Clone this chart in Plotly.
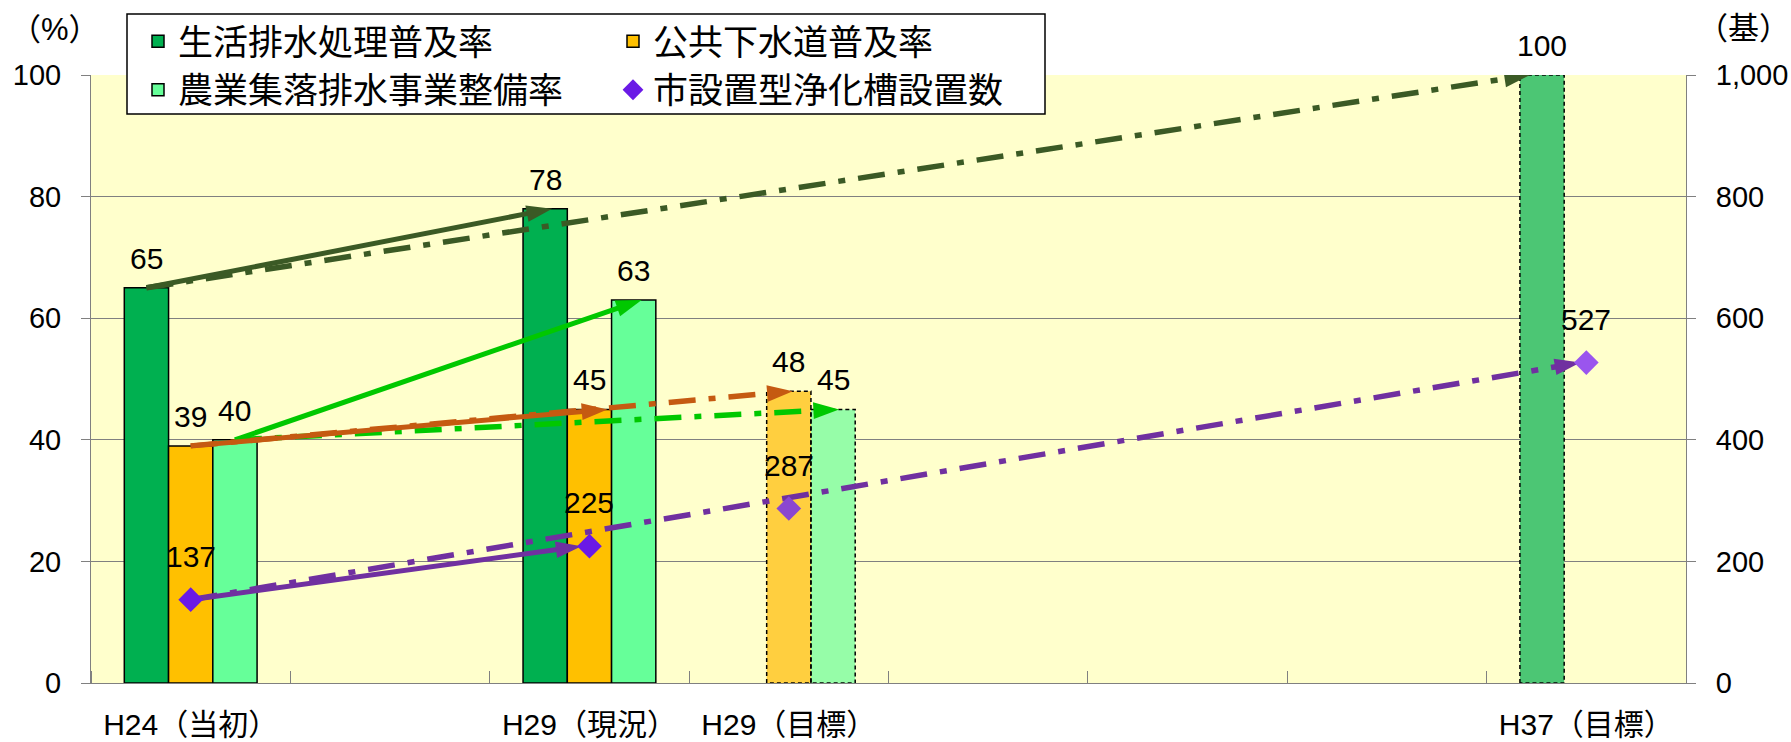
import plotly.graph_objects as go

# ---- data -------------------------------------------------------------
categories = ["H24（当初）", "", "H29（現況）", "H29（目標）", "", "", "", "H37（目標）"]
is_target = [False, False, False, True, False, False, False, True]

seikatsu_rate = [65, None, 78, None, None, None, None, 100]    # 生活排水処理普及率 (%)
gesuido_rate = [39, None, 45, 48, None, None, None, None]      # 公共下水道普及率 (%)
nouson_rate = [40, None, 63, 45, None, None, None, None]       # 農業集落排水事業整備率 (%)
jokaso_count = [137, None, 225, 287, None, None, None, 527]    # 市設置型浄化槽設置数 (基)

left_ticks = [0, 20, 40, 60, 80, 100]
right_ticks = [0, 200, 400, 600, 800, 1000]

# trend arrows: (series key, from category, to category, style, tip nudge)
arrow_specs = [
    ("seikatsu", 0, 7, "dashdot", -0.06),
    ("nouson", 0, 3, "dashdot", 0.03),
    ("gesuido", 0, 3, "dashdot", 0.02),
    ("jokaso", 0, 7, "dashdot", -0.03),
    ("seikatsu", 0, 2, "solid", 0.035),
    ("nouson", 0, 2, "solid", 0.04),
    ("gesuido", 0, 2, "solid", 0.09),
    ("jokaso", 0, 2, "solid", -0.04),
]

# ---- geometry ----------------------------------------------------------
FIG_W, FIG_H = 1791, 742
M_L, M_R, M_T, M_B = 91, 105, 75, 59
PLOT_W = FIG_W - M_L - M_R
PLOT_H = FIG_H - M_T - M_B


def px_x(p):
    return (p - M_L) / PLOT_W


def px_y(p):
    return (FIG_H - M_B - p) / PLOT_H


BAR_W = 0.222
xs = list(range(len(categories)))

series = {
    "seikatsu": dict(name="生活排水処理普及率", values=seikatsu_rate, color="#00B050",
                     target_color="#4CC674", offset=-1.5 * BAR_W, legend="legend",
                     arrow_color="#3B5A25", yaxis="y"),
    "gesuido": dict(name="公共下水道普及率", values=gesuido_rate, color="#FFC000",
                    target_color="#FFCF3F", offset=-0.5 * BAR_W, legend="legend2",
                    arrow_color="#C55A11", yaxis="y"),
    "nouson": dict(name="農業集落排水事業整備率", values=nouson_rate, color="#66FF99",
                   target_color="#96FDA8", offset=0.5 * BAR_W, legend="legend",
                   arrow_color="#00C800", yaxis="y"),
    "jokaso": dict(name="市設置型浄化槽設置数", values=jokaso_count, color="#6A1AE6",
                   offset=None, legend="legend2", arrow_color="#7030A0", yaxis="y2"),
}

point_colors = ["#6A1AE6", None, "#6A1AE6", "#8B47D0", None, None, None, "#9A55EE"]

fig = go.Figure()

# ---- bars --------------------------------------------------------------
bar_keys = ["seikatsu", "gesuido", "nouson"]
for key in bar_keys:
    s = series[key]
    actual = [v if not t else None for v, t in zip(s["values"], is_target)]
    target = [v if t else None for v, t in zip(s["values"], is_target)]
    fig.add_trace(go.Bar(
        x=xs, y=actual, width=BAR_W, offset=s["offset"], name=s["name"],
        legend=s["legend"], marker=dict(color=s["color"], line=dict(color="black", width=1.5)),
        hoverinfo="skip",
    ))
    fig.add_trace(go.Bar(
        x=xs, y=target, width=BAR_W, offset=s["offset"], name=s["name"] + "（目標）",
        showlegend=False, marker=dict(color=s["target_color"], line=dict(width=0)),
        hoverinfo="skip",
    ))
    # dashed outline around planned values
    ox, oy = [], []
    for i, (v, t) in enumerate(zip(s["values"], is_target)):
        if t and v is not None:
            left = i + s["offset"]
            right = left + BAR_W
            ox += [left, left, right, right, left, None]
            oy += [0, v, v, 0, 0, None]
    if ox:
        fig.add_trace(go.Scatter(
            x=ox, y=oy, mode="lines", showlegend=False, hoverinfo="skip",
            line=dict(color="black", width=1.5, dash="4px,3px"),
        ))


def anchor_x(key, idx):
    s = series[key]
    if s["offset"] is None:
        return idx
    return idx + s["offset"] + BAR_W / 2


# ---- trend arrows ------------------------------------------------------
for key, i0, i1, style, nudge in arrow_specs:
    s = series[key]
    x0, y0 = anchor_x(key, i0), s["values"][i0]
    x1, y1 = anchor_x(key, i1) + nudge, s["values"][i1]
    fig.add_trace(go.Scatter(
        x=[x0, x1], y=[y0, y1], yaxis=s["yaxis"], mode="lines+markers",
        showlegend=False, hoverinfo="skip",
        line=dict(color=s["arrow_color"], width=5.5 if style == "dashdot" else 5,
                  dash="27px,13px,7px,13px" if style == "dashdot" else "solid"),
        marker=dict(symbol=["circle", "arrow"], size=[0, 27], opacity=[0, 1],
                    angleref="previous", color=s["arrow_color"], line=dict(width=0)),
    ))

# ---- septic tank count markers ----------------------------------------
fig.add_trace(go.Scatter(
    x=xs, y=jokaso_count, yaxis="y2", mode="markers", name=series["jokaso"]["name"],
    legend="legend2", hoverinfo="skip",
    marker=dict(symbol="diamond", size=19,
                color=[c if c else "#6A1AE6" for c in point_colors],
                line=dict(width=0)),
))

# ---- value labels ------------------------------------------------------
annotations = []
label_font = dict(family="Liberation Sans, Arial", size=30, color="black")
for key in bar_keys:
    s = series[key]
    for i, v in enumerate(s["values"]):
        if v is None:
            continue
        annotations.append(dict(
            x=anchor_x(key, i), y=v, xref="x", yref="y", text=str(v),
            showarrow=False, yanchor="bottom", yshift=11, font=label_font,
        ))
for i, v in enumerate(jokaso_count):
    if v is None:
        continue
    annotations.append(dict(
        x=i, y=v, xref="x", yref="y2", text=str(v),
        showarrow=False, yanchor="bottom", yshift=25, font=label_font,
    ))

# unit captions
unit_font = dict(family="Liberation Sans, Noto Sans CJK JP", size=31, color="black")
annotations.append(dict(x=px_x(55), y=px_y(30), xref="paper", yref="paper", text="（%）",
                        xanchor="center", yanchor="middle", showarrow=False, font=unit_font))
annotations.append(dict(x=px_x(1743), y=px_y(28), xref="paper", yref="paper", text="（基）",
                        xanchor="center", yanchor="middle", showarrow=False, font=unit_font))

# legend frame
shapes = [dict(
    type="rect", xref="paper", yref="paper",
    x0=px_x(127), x1=px_x(1045), y0=px_y(114), y1=px_y(14),
    line=dict(color="black", width=1.5), fillcolor="white", layer="above",
)]

axis_gray = "#808080"
tick_font = dict(family="Liberation Sans, Arial", size=29, color="black")
legend_font = dict(family="Noto Sans CJK JP", size=35, color="black")

fig.update_layout(
    width=FIG_W, height=FIG_H, autosize=False,
    margin=dict(l=M_L, r=M_R, t=M_T, b=M_B, pad=0),
    paper_bgcolor="white", plot_bgcolor="#FFFFCC",
    barmode="overlay",
    annotations=annotations, shapes=shapes,
    xaxis=dict(
        range=[-0.5, len(categories) - 0.5], tickmode="array",
        tickvals=[i for i, c in enumerate(categories) if c],
        ticktext=[c for c in categories if c],
        ticks="", showgrid=False, zeroline=False,
        showline=True, linecolor=axis_gray, linewidth=1,
        tickfont=dict(family="Liberation Sans, Noto Sans CJK JP", size=30, color="black"),
        ticklabelstandoff=15, automargin=False,
        minor=dict(tickmode="array", tickvals=[i - 0.5 for i in range(len(categories) + 1)],
                   ticks="inside", ticklen=12, tickcolor=axis_gray, tickwidth=1, showgrid=False),
    ),
    yaxis=dict(
        range=[0, 100], tickmode="array", tickvals=left_ticks,
        ticks="outside", ticklen=9, tickcolor=axis_gray, tickwidth=1,
        showline=True, linecolor=axis_gray, linewidth=1,
        showgrid=False, zeroline=False, tickfont=tick_font,
        ticklabelstandoff=14, automargin=False,
        minor=dict(tickmode="array", tickvals=left_ticks[1:-1], ticks="",
                   showgrid=True, gridcolor=axis_gray, gridwidth=1),
    ),
    yaxis2=dict(
        range=[0, 1000], tickmode="array", tickvals=right_ticks, tickformat=",",
        overlaying="y", side="right",
        ticks="outside", ticklen=9, tickcolor=axis_gray, tickwidth=1,
        showline=True, linecolor=axis_gray, linewidth=1,
        showgrid=False, zeroline=False, tickfont=tick_font,
        ticklabelstandoff=14, automargin=False,
    ),
    legend=dict(
        x=px_x(138), y=px_y(12), xanchor="left", yanchor="top",
        orientation="v", bgcolor="rgba(0,0,0,0)", borderwidth=0,
        font=legend_font, tracegroupgap=0, itemclick=False, itemdoubleclick=False,
    ),
    legend2=dict(
        x=px_x(613), y=px_y(12), xanchor="left", yanchor="top",
        orientation="v", bgcolor="rgba(0,0,0,0)", borderwidth=0,
        font=legend_font, tracegroupgap=0, itemclick=False, itemdoubleclick=False,
    ),
)

fig.write_html("out.html")
